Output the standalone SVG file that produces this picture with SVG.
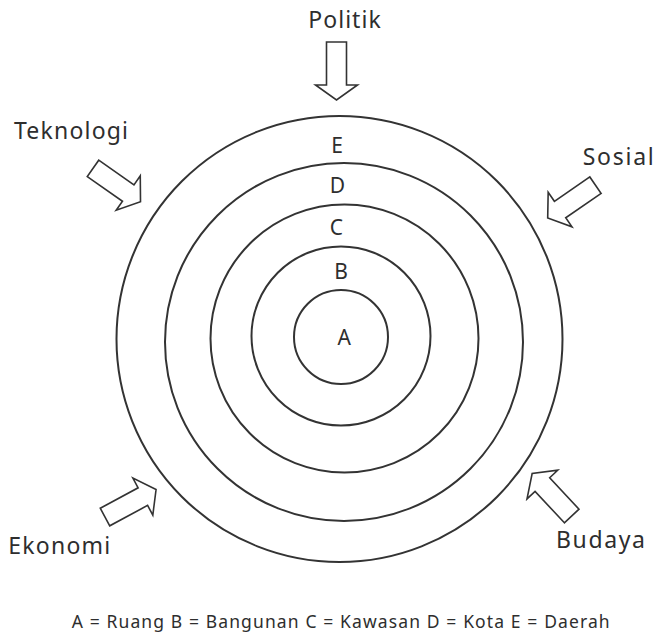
<svg xmlns="http://www.w3.org/2000/svg" width="657" height="633" viewBox="0 0 657 633">
<style>
.ring{fill:none;stroke:#333;stroke-width:2}
.arrow{fill:#fff;stroke:#333;stroke-width:1.6;stroke-linejoin:miter}
text{font-family:"Noto Sans","DejaVu Sans",sans-serif;fill:#2e2e2e}
.lbl{font-size:23px}
.ltr{font-size:21px;text-anchor:middle}
.leg{font-size:17.5px}
</style>
<defs>
<polygon id="arr" points="0,-10 43,-10 43,-21 58,0 43,21 43,10 0,10"/>
</defs>
<rect width="657" height="633" fill="#fff"/>
<g id="ring-E"><circle class="ring" cx="339.5" cy="339" r="223"/><text class="ltr" x="337" y="153">E</text></g>
<g id="ring-D"><circle class="ring" cx="344" cy="342" r="179"/><text class="ltr" x="337.5" y="192.5">D</text></g>
<g id="ring-C"><circle class="ring" cx="344.5" cy="338.5" r="134"/><text class="ltr" x="336.5" y="234.5">C</text></g>
<g id="ring-B"><circle class="ring" cx="341" cy="336" r="89.5"/><text class="ltr" x="341" y="279">B</text></g>
<g id="ring-A"><circle class="ring" cx="341" cy="337" r="47"/><text class="ltr" x="344.3" y="345">A</text></g>
<g id="connectors">
<use href="#arr" class="arrow" transform="translate(336.5,42) rotate(90)"/>
<use href="#arr" class="arrow" transform="translate(93,168.4) rotate(35)"/>
<use href="#arr" class="arrow" transform="translate(595.5,185.2) rotate(145.5)"/>
<use href="#arr" class="arrow" transform="translate(105,517) rotate(-28.3)"/>
<use href="#arr" class="arrow" transform="translate(571.7,516) rotate(-133)"/>
</g>
<g id="politik"><text class="lbl" x="308.3" y="27.7" textLength="72.4">Politik</text></g>
<g id="teknologi"><text class="lbl" x="14" y="139.3" textLength="114">Teknologi</text></g>
<g id="sosial"><text class="lbl" x="582.7" y="165" textLength="71">Sosial</text></g>
<g id="ekonomi"><text class="lbl" x="8.3" y="554.3" textLength="102">Ekonomi</text></g>
<g id="budaya"><text class="lbl" x="556" y="548.3" textLength="89">Budaya</text></g>
<g id="legend"><text class="leg" x="71.7" y="627.5" textLength="538">A = Ruang B = Bangunan C = Kawasan D = Kota E = Daerah</text></g>
</svg>
